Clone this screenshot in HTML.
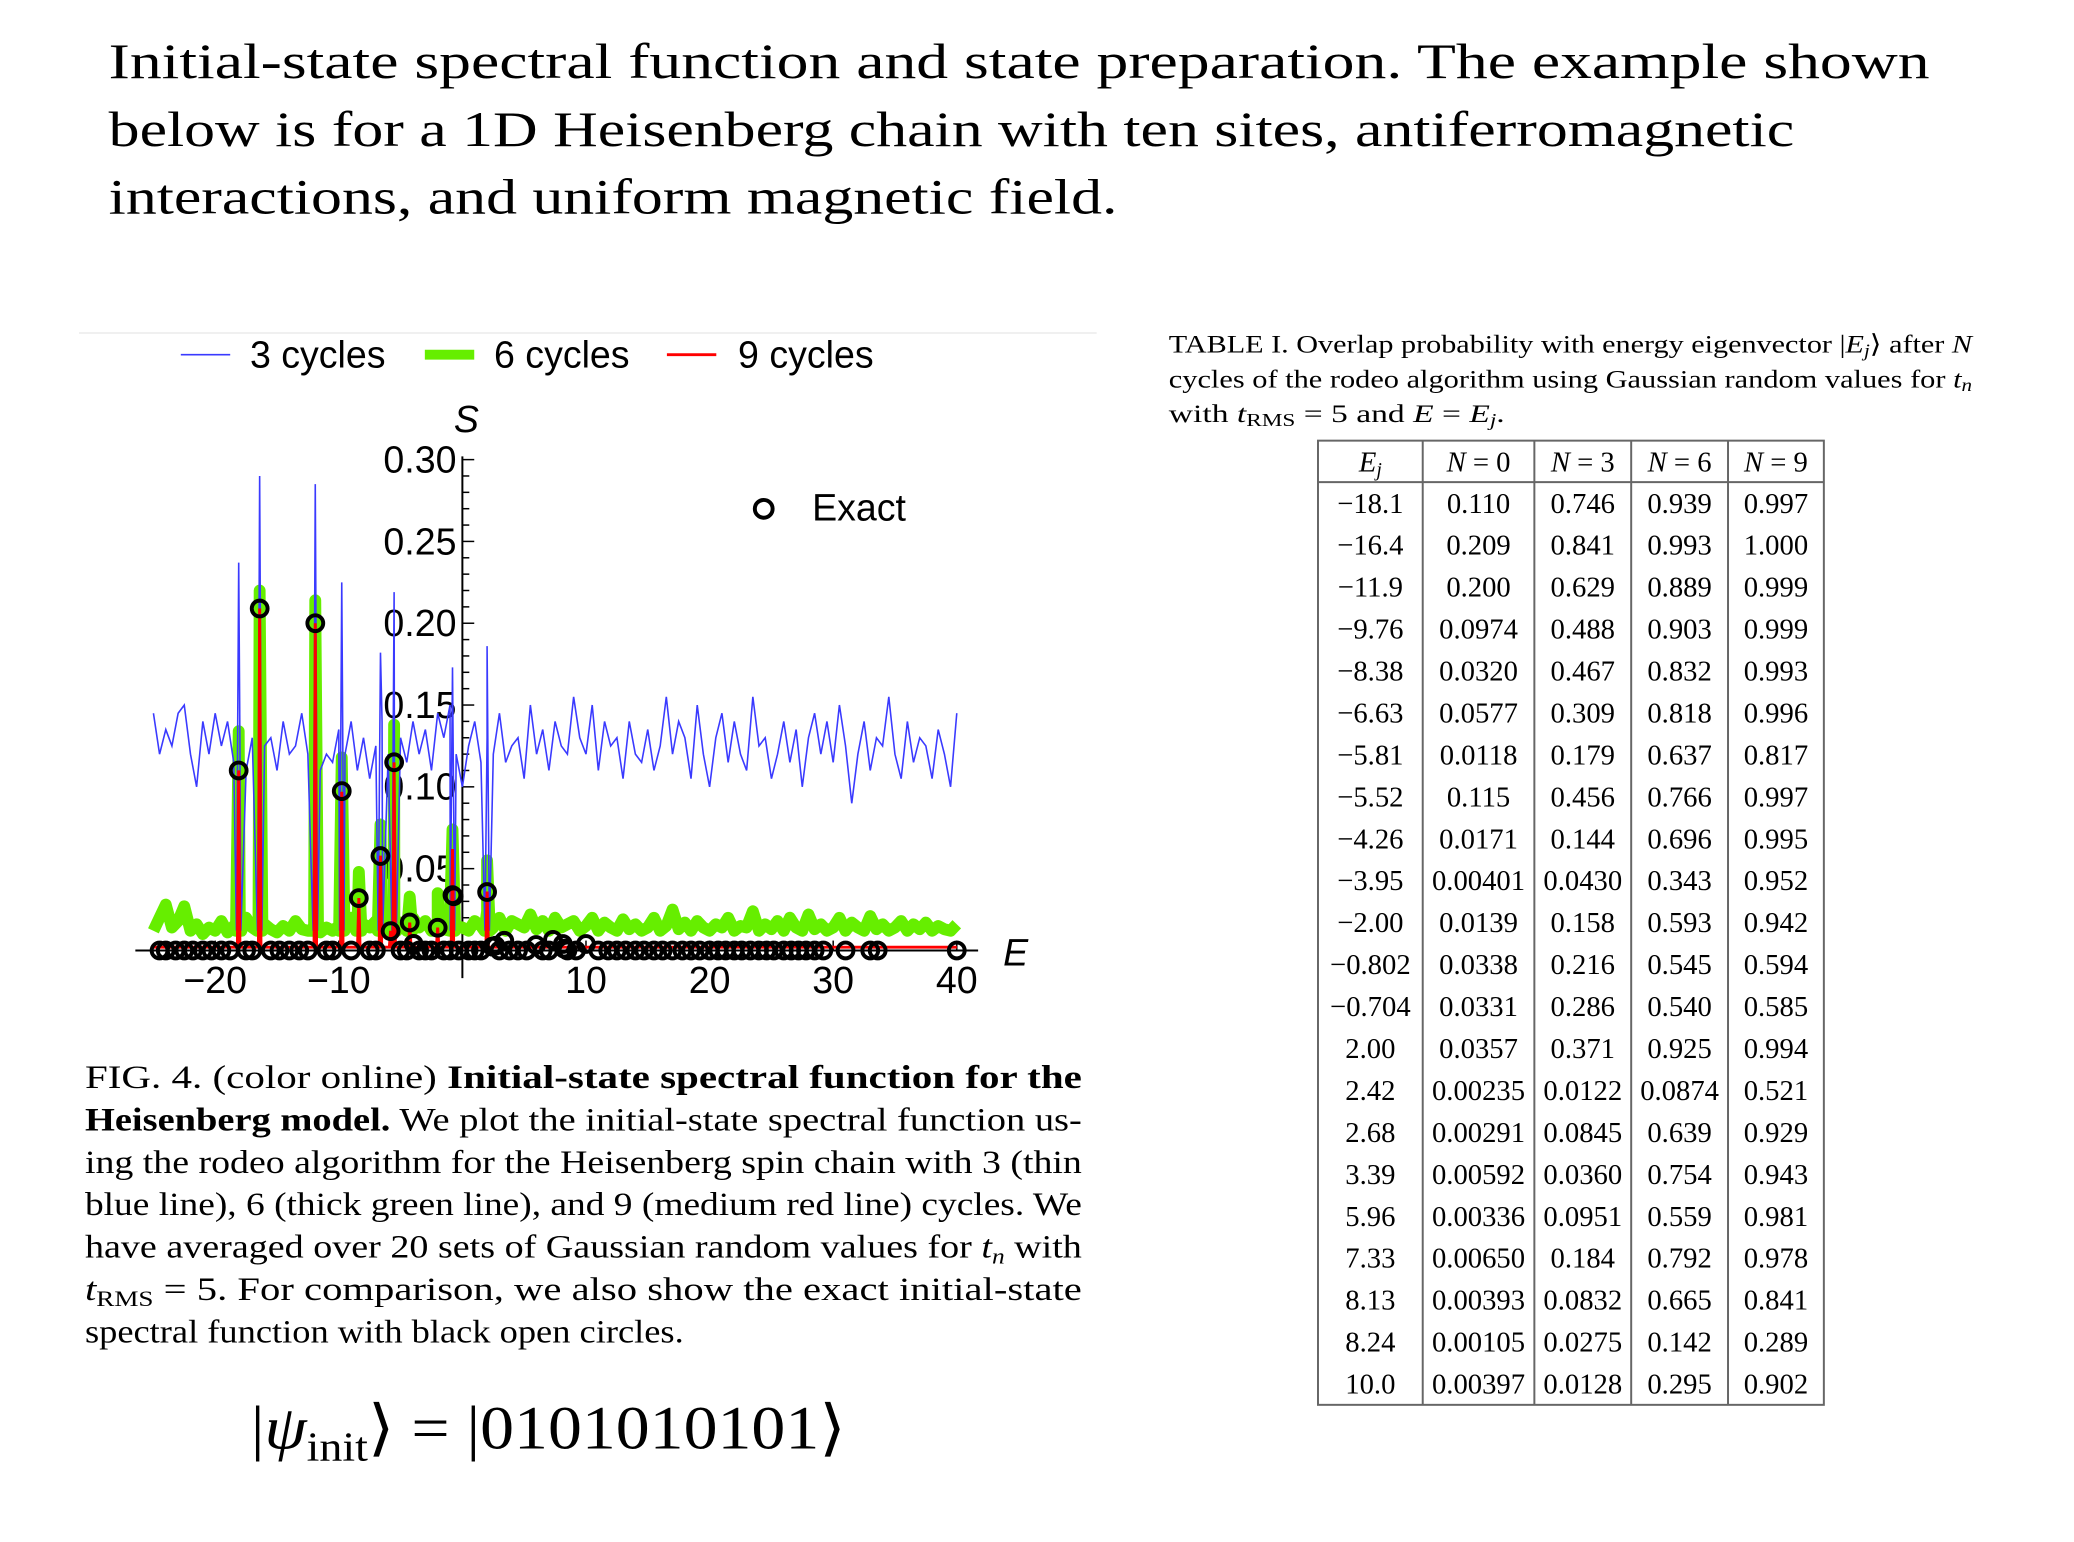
<!DOCTYPE html>
<html><head><meta charset="utf-8">
<style>
html,body{margin:0;padding:0;background:#fff;}
svg{display:block;}
.serif{font-family:"Liberation Serif",serif;}
.sans{font-family:"Liberation Sans",sans-serif;}
</style></head>
<body>
<svg id="page" width="2074" height="1542" viewBox="0 0 2074 1542" xmlns="http://www.w3.org/2000/svg">
<g transform="scale(0.988)">
<g class="serif" fill="#000">
<text x="110" y="79" font-size="50" textLength="1843" lengthAdjust="spacingAndGlyphs">Initial-state spectral function and state preparation.  The example shown</text>
<text x="110" y="148" font-size="50" textLength="1706" lengthAdjust="spacingAndGlyphs">below is for a 1D Heisenberg chain with ten sites, antiferromagnetic</text>
<text x="110" y="216" font-size="50" textLength="1021" lengthAdjust="spacingAndGlyphs">interactions, and uniform magnetic field.</text>
</g>
<line x1="80" y1="337" x2="1110" y2="337" stroke="#f0f0f0" stroke-width="2"/>
<g id="chart"></g>

<g class="serif" font-size="33">
<text x="86" y="1101" textLength="1009" lengthAdjust="spacingAndGlyphs">FIG. 4.   (color online) <tspan font-weight="bold">Initial-state spectral function for the</tspan></text>
<text x="86" y="1144" textLength="1009" lengthAdjust="spacingAndGlyphs"><tspan font-weight="bold">Heisenberg model.</tspan>  We plot the initial-state spectral function us-</text>
<text x="86" y="1187" textLength="1009" lengthAdjust="spacingAndGlyphs">ing the rodeo algorithm for the Heisenberg spin chain with 3 (thin</text>
<text x="86" y="1230" textLength="1009" lengthAdjust="spacingAndGlyphs">blue line), 6 (thick green line), and 9 (medium red line) cycles. We</text>
<text x="86" y="1273" textLength="1009" lengthAdjust="spacingAndGlyphs">have averaged over 20 sets of Gaussian random values for <tspan font-style="italic">t</tspan><tspan font-style="italic" font-size="22" dy="6">n</tspan><tspan dy="-6"> with</tspan></text>
<text x="86" y="1316" textLength="1009" lengthAdjust="spacingAndGlyphs"><tspan font-style="italic">t</tspan><tspan font-size="22" dy="6">RMS</tspan><tspan dy="-6"> = 5.  For comparison, we also show the exact initial-state</tspan></text>
<text x="86" y="1359" textLength="606" lengthAdjust="spacingAndGlyphs">spectral function with black open circles.</text>
</g>
<text class="serif" x="254" y="1466" font-size="62" textLength="602" lengthAdjust="spacingAndGlyphs">|<tspan font-style="italic">ψ</tspan><tspan font-size="42" dy="12">init</tspan><tspan dy="-12">⟩ = |0101010101⟩</tspan></text>

<g class="serif" font-size="26">
<text x="1183" y="357" textLength="813" lengthAdjust="spacingAndGlyphs">TABLE I. Overlap probability with energy eigenvector |<tspan font-style="italic">E</tspan><tspan font-style="italic" font-size="18" dy="4">j</tspan><tspan dy="-4">⟩ after </tspan><tspan font-style="italic">N</tspan></text>
<text x="1183" y="392" textLength="813" lengthAdjust="spacingAndGlyphs">cycles of the rodeo algorithm using Gaussian random values for <tspan font-style="italic">t</tspan><tspan font-style="italic" font-size="18" dy="4">n</tspan></text>
<text x="1183" y="427" textLength="340" lengthAdjust="spacingAndGlyphs">with <tspan font-style="italic">t</tspan><tspan font-size="18" dy="4">RMS</tspan><tspan dy="-4"> = 5 and </tspan><tspan font-style="italic">E</tspan> = <tspan font-style="italic">E</tspan><tspan font-style="italic" font-size="18" dy="4">j</tspan><tspan dy="-4">.</tspan></text>
</g>
<g id="table" class="serif"></g>
</g>

<script>
// ---------- chart data ----------
const blueStart = -25, blueStep = 0.5;
const blueBase = [0.145,0.12,0.135,0.125,0.145,0.15,0.12,0.10,0.14,0.12,0.145,0.125,0.14,0.115,0.13,0.11,0.13,0.12,0.125,0.13,
0.11,0.14,0.12,0.125,0.145,0.12,0.13,0.11,0.12,0.115,
0.135,0.12,0.14,0.11,0.13,0.105,0.125,0.14,0.12,0.115,
0.13,0.115,0.14,0.12,0.135,0.11,0.145,0.13,0.15,0.12,
0.10,0.125,0.14,0.115,0.13,0.12,0.145,0.115,0.125,0.13,
0.105,0.15,0.12,0.135,0.11,0.14,0.125,0.12,0.155,0.13,
0.12,0.15,0.11,0.14,0.125,0.13,0.105,0.14,0.12,0.115,
0.135,0.11,0.125,0.155,0.12,0.14,0.13,0.105,0.15,0.12,
0.10,0.13,0.145,0.115,0.14,0.12,0.11,0.155,0.125,0.13,
0.105,0.12,0.14,0.115,0.135,0.10,0.13,0.145,0.12,0.14,
0.115,0.15,0.125,0.09,0.12,0.14,0.11,0.13,0.125,0.155,
0.12,0.105,0.14,0.115,0.13,0.125,0.105,0.135,0.12,0.10,
0.145];
const bluePeakE = [-18.1,-16.4,-11.9,-9.76,-6.63,-5.52,-0.8,2.0];
const bluePeakV = [0.237,0.29,0.285,0.225,0.182,0.219,0.173,0.186];
const greenBase = [0.012,0.02,0.028,0.014,0.018,0.027,0.012,0.016,0.01,0.014,0.012,0.018,0.011,0.015,0.012,0.02,0.014,0.012,0.016,0.013,
0.011,0.015,0.012,0.018,0.013,0.012,0.016,0.011,0.014,0.012,
0.015,0.013,0.02,0.012,0.016,0.014,0.018,0.012,0.015,0.013,
0.017,0.012,0.02,0.014,0.018,0.012,0.016,0.013,0.02,0.015,
0.014,0.012,0.018,0.015,0.024,0.014,0.02,0.012,0.018,0.016,
0.014,0.022,0.013,0.018,0.012,0.02,0.014,0.016,0.018,0.012,
0.015,0.02,0.012,0.017,0.014,0.012,0.019,0.013,0.016,0.012,
0.014,0.02,0.012,0.015,0.025,0.013,0.017,0.012,0.018,0.014,
0.012,0.016,0.014,0.02,0.012,0.015,0.014,0.024,0.012,0.016,
0.013,0.018,0.012,0.02,0.014,0.012,0.022,0.013,0.016,0.012,
0.014,0.02,0.012,0.017,0.014,0.012,0.021,0.013,0.016,0.012,
0.014,0.018,0.012,0.016,0.013,0.017,0.012,0.015,0.013,0.012,
0.016];
const greenPeakE = [-18.1,-16.4,-11.9,-9.76,-8.38,-6.63,-5.81,-5.52,-4.26,-2.0,-0.8,2.0];
const greenPeakV = [0.134,0.22,0.214,0.118,0.048,0.077,0.022,0.138,0.033,0.035,0.074,0.055];
const redPeakE = [-18.1,-16.4,-11.9,-9.76,-8.38,-6.63,-5.81,-5.52,-4.26,-2.0,-0.8,2.0];
const redPeakV = [0.11,0.209,0.2,0.097,0.032,0.058,0.012,0.115,0.017,0.014,0.062,0.036];
const exactE = [-18.1,-16.4,-11.9,-9.76,-8.38,-6.63,-5.81,-5.52,-4.26,-3.95,-2.0,-0.802,-0.704,2.0,2.42,2.68,3.39,5.96,7.33,8.13,8.24,10.0];
const exactV = [0.110,0.209,0.200,0.0974,0.0320,0.0577,0.0118,0.115,0.0171,0.00401,0.0139,0.0338,0.0331,0.0357,0.00235,0.00291,0.00592,0.00336,0.00650,0.00393,0.00105,0.00397];
const exactZeroE = [-24.5,-24,-23.2,-22.5,-21.8,-21,-20.3,-19.5,-18.8,-17.5,-17,-15.5,-14.8,-14,-13.2,-12.5,-11,-10.5,-9,-7.5,-7,-5,-4.5,-3.5,-3,-2.5,-1.5,-1,-0.3,0.5,1,1.5,3,3.8,4.5,5.2,6.5,7,8.5,9.2,11,11.8,12.5,13.2,14,14.7,15.5,16.2,17,17.8,18.5,19.2,20,20.7,21.3,22,22.6,23.3,24,24.6,25.2,26,26.6,27.2,27.8,28.5,29.2,31,33,33.6,40];
const xTicks = [-20,-10,10,20,30,40];
const xTickLabels = ["\u221220","\u221210","10","20","30","40"];
const yTicks = [0.05,0.10,0.15,0.20,0.25,0.30];
const yTickLabels = ["0.05","0.10","0.15","0.20","0.25","0.30"];

const NS = "http://www.w3.org/2000/svg";
const X0 = 468, XU = 12.51, Y0 = 962, YU = 1656;
function xs(e){ return X0 + e*XU; }
function ys(v){ return Y0 - v*YU; }
const chart = document.getElementById('chart');
function mk(tag, attrs, parent){
  const el = document.createElementNS(NS, tag);
  for (const k in attrs) el.setAttribute(k, attrs[k]);
  (parent||chart).appendChild(el);
  return el;
}
function mergeSeries(baseStart, step, base, pE, pV, w){
  const pts = base.map((v,i)=>[baseStart + i*step, v]);
  pE.forEach((e,i)=>{
    const b = 0.012;
    pts.push([e-w, b]); pts.push([e, pV[i]]); pts.push([e+w, b]);
  });
  pts.sort((a,b)=>a[0]-b[0]);
  return pts.map(p=>xs(p[0]).toFixed(1)+','+ys(p[1]).toFixed(1)).join(' ');
}

// axes
let ax = mk('line',{x1:137,y1:Y0,x2:990,y2:Y0,stroke:'#000','stroke-width':2});


let ay = mk('line',{x1:X0,y1:ys(0.302),x2:X0,y2:Y0+28,stroke:'#000','stroke-width':2});


for (let k=1;k<=30;k++){
  const v = k/100, major = (k%5===0);
  const t = mk('line',{x1:X0,y1:ys(v),x2:X0+(major?12:7),y2:ys(v),stroke:'#000','stroke-width':1.5});
  
  
}
yTicks.forEach((v,i)=>{
  const t = mk('text',{x:462,y:ys(v)+13,'font-size':38,'text-anchor':'end',class:'sans'});
  t.textContent = yTickLabels[i];
  
  
});
xTicks.forEach((e,i)=>{
  const t = mk('line',{x1:xs(e),y1:Y0,x2:xs(e),y2:Y0-10,stroke:'#000','stroke-width':1.5});
  
  
  const l = mk('text',{x:xs(e),y:1005,'font-size':38,'text-anchor':'middle',class:'sans'});
  l.textContent = xTickLabels[i];
  
  
});

// series
const g = mk('polyline',{points:mergeSeries(blueStart,blueStep,greenBase,greenPeakE,greenPeakV,0.22),fill:'none',stroke:'#66ee00','stroke-width':12,'stroke-linejoin':'round'});


const b = mk('polyline',{points:mergeSeries(blueStart,blueStep,blueBase,bluePeakE,bluePeakV,0.18),fill:'none',stroke:'#3a3aff','stroke-width':1.6});


(function(){
  const pts = [[-25,0.002],[40,0.002]];
  redPeakE.forEach((e,i)=>{ pts.push([e-0.1,0.002]); pts.push([e,redPeakV[i]]); pts.push([e+0.1,0.002]); });
  pts.sort((a,c)=>a[0]-c[0]);
  const r = mk('polyline',{points:pts.map(p=>xs(p[0]).toFixed(1)+','+ys(p[1]).toFixed(1)).join(' '),fill:'none',stroke:'#ff0000','stroke-width':3});
  
  
})();
exactZeroE.forEach(e=>{
  const c = mk('circle',{cx:xs(e),cy:ys(0),r:8,fill:'none',stroke:'#000','stroke-width':4});
  
  
});
exactE.forEach((e,i)=>{
  const c = mk('circle',{cx:xs(e),cy:ys(exactV[i]),r:8,fill:'none',stroke:'#000','stroke-width':4});
  
  
});

// labels & legend
let s = mk('text',{x:472,y:437,'font-size':38,'font-style':'italic','text-anchor':'middle',class:'sans'});
s.textContent='S';


let eT = mk('text',{x:1028,y:977,'font-size':38,'font-style':'italic','text-anchor':'middle',class:'sans'});
eT.textContent='E';


let ec = mk('circle',{cx:773,cy:515,r:9,fill:'none',stroke:'#000','stroke-width':4});


let et = mk('text',{x:822,y:527,'font-size':38,class:'sans'});
et.textContent='Exact';


const legX = [183,430,675], legTx=[253,500,747], legC=['#3a3aff','#66ee00','#ff0000'], legW=[1.6,10,3], legT=['3 cycles','6 cycles','9 cycles'];
for (let i=0;i<3;i++){
  const l = mk('line',{x1:legX[i],y1:359,x2:legX[i]+50,y2:359,stroke:legC[i],'stroke-width':legW[i]});
  
  
  const t = mk('text',{x:legTx[i],y:372,'font-size':38,class:'sans'});
  t.textContent = legT[i];
  
  
}

// ---------- table ----------
const tbl = document.getElementById('table');
const colEdges = [1334,1440,1553,1651,1749,1846];
const tTop = 446, hdrBot = 488, rowH = 42.45;
const rows = [
["\u221218.1","0.110","0.746","0.939","0.997"],
["\u221216.4","0.209","0.841","0.993","1.000"],
["\u221211.9","0.200","0.629","0.889","0.999"],
["\u22129.76","0.0974","0.488","0.903","0.999"],
["\u22128.38","0.0320","0.467","0.832","0.993"],
["\u22126.63","0.0577","0.309","0.818","0.996"],
["\u22125.81","0.0118","0.179","0.637","0.817"],
["\u22125.52","0.115","0.456","0.766","0.997"],
["\u22124.26","0.0171","0.144","0.696","0.995"],
["\u22123.95","0.00401","0.0430","0.343","0.952"],
["\u22122.00","0.0139","0.158","0.593","0.942"],
["\u22120.802","0.0338","0.216","0.545","0.594"],
["\u22120.704","0.0331","0.286","0.540","0.585"],
["2.00","0.0357","0.371","0.925","0.994"],
["2.42","0.00235","0.0122","0.0874","0.521"],
["2.68","0.00291","0.0845","0.639","0.929"],
["3.39","0.00592","0.0360","0.754","0.943"],
["5.96","0.00336","0.0951","0.559","0.981"],
["7.33","0.00650","0.184","0.792","0.978"],
["8.13","0.00393","0.0832","0.665","0.841"],
["8.24","0.00105","0.0275","0.142","0.289"],
["10.0","0.00397","0.0128","0.295","0.902"]];
const tBot = hdrBot + rows.length*rowH;
let fr = mk('rect',{x:colEdges[0],y:tTop,width:colEdges[5]-colEdges[0],height:tBot-tTop,fill:'none',stroke:'#666','stroke-width':2},tbl);


let hl = mk('line',{x1:colEdges[0],y1:hdrBot,x2:colEdges[5],y2:hdrBot,stroke:'#666','stroke-width':2},tbl);


for (let i=1;i<5;i++){
  const l = mk('line',{x1:colEdges[i],y1:tTop,x2:colEdges[i],y2:tBot,stroke:'#666','stroke-width':2},tbl);
  
  
}
for (let i=0;i<5;i++){
  const cx = (colEdges[i]+colEdges[i+1])/2;
  const t = mk('text',{x:cx,y:477,'font-size':29,'text-anchor':'middle'},tbl);
  
  
  if (i===0){
    const a = mk('tspan',{'font-style':'italic'},t); a.textContent='E';
    const c = mk('tspan',{'font-style':'italic','font-size':20,dy:5},t); c.textContent='j';
  } else {
    const a = mk('tspan',{'font-style':'italic'},t); a.textContent='N';
    const c = mk('tspan',{},t); c.textContent=' = '+(i*3-3);
  }
}
rows.forEach((r,ri)=>{
  r.forEach((v,ci)=>{
    const cx = (colEdges[ci]+colEdges[ci+1])/2;
    const t = mk('text',{x:cx,y:hdrBot+ri*rowH+31,'font-size':29,'text-anchor':'middle'},tbl);
    t.textContent = v;
    
    
  });
});
</script>
</svg>
</body></html>
